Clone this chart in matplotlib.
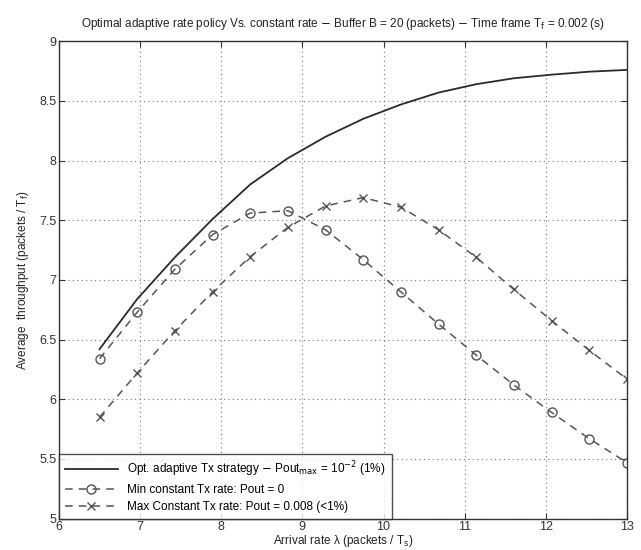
import numpy as np
import matplotlib.pyplot as plt

plt.rcParams['font.family'] = ['Liberation Sans', 'DejaVu Sans']

# arrival rate (packets / T_f)
lam = [6.5, 6.964, 7.429, 7.893, 8.357, 8.821, 9.286, 9.75,
       10.214, 10.679, 11.143, 11.607, 12.071, 12.536, 13.0]

# optimal adaptive policy
thr_opt = [6.42, 6.84, 7.19, 7.51, 7.80, 8.02, 8.20, 8.35,
           8.47, 8.57, 8.64, 8.69, 8.72, 8.745, 8.76]
# min constant rate (Pout = 0)
thr_min = [6.34, 6.73, 7.09, 7.38, 7.56, 7.58, 7.42, 7.17,
           6.90, 6.63, 6.37, 6.12, 5.89, 5.67, 5.47]
# max constant rate (Pout = 0.008)
thr_max = [5.85, 6.22, 6.575, 6.90, 7.195, 7.44, 7.62, 7.69,
           7.61, 7.42, 7.19, 6.92, 6.66, 6.41, 6.17]

xticks = [6, 7, 8, 9, 10, 11, 12, 13]
yticks = [5, 5.5, 6, 6.5, 7, 7.5, 8, 8.5, 9]
ytick_labels = ['5', '5.5', '6', '6.5', '7', '7.5', '8', '8.5', '9']

fig = plt.figure(figsize=(6.41, 5.5), dpi=100)
ax = fig.add_axes([0.092, 0.057, 0.886, 0.868])

c_line = '#2a2a2a'
c_mark = '#555555'

ax.plot(lam, thr_opt, '-', color=c_line, lw=1.3,
        label=r'Opt. adaptive Tx strategy $-$ Pout$_{\mathrm{max}}$ = 10$^{-2}$ (1%)')
ax.plot(lam, thr_min, '--', color=c_mark, lw=1.1, dashes=(5, 4),
        marker='o', ms=6.5, mfc='none', mec=c_mark, mew=1.0,
        label='Min constant Tx rate: Pout = 0')
ax.plot(lam, thr_max, '--', color=c_mark, lw=1.1, dashes=(5, 4),
        marker='x', ms=5.5, mec=c_mark, mew=1.0,
        label='Max Constant Tx rate: Pout = 0.008 (<1%)')

ax.set_xlim(6, 13)
ax.set_ylim(5, 9)
ax.set_xticks(xticks)
ax.set_yticks(yticks)
ax.set_yticklabels(ytick_labels)
ax.tick_params(direction='in', length=4, labelsize=9, colors='#333333',
               top=True, right=True, pad=2)
ax.grid(True, linestyle=(0, (1, 3)), color='#777777', lw=0.8)
for s in ax.spines.values():
    s.set_color('#333333')
    s.set_linewidth(1.0)

ax.set_title(r'Optimal adaptive rate policy Vs. constant rate $-$ Buffer B = 20 (packets) $-$ Time frame T$_{\mathrm{f}}$ = 0.002 (s)',
             fontsize=8.5, color='#222222', pad=10)
ax.set_xlabel(r'Arrival rate λ (packets / T$_{\mathrm{s}}$)', fontsize=8.5, color='#222222', labelpad=0)
ax.set_ylabel(r'Average  throughput (packets / T$_{\mathrm{f}}$)', fontsize=8.5, color='#222222', labelpad=6)

leg = ax.legend(loc='lower left', fontsize=8.5, frameon=True, fancybox=False,
                edgecolor='#222222', borderaxespad=0, handlelength=4.5,
                labelspacing=0.4, borderpad=0.5)
leg.get_frame().set_linewidth(1.0)

fig.savefig('out.png', dpi=100)
